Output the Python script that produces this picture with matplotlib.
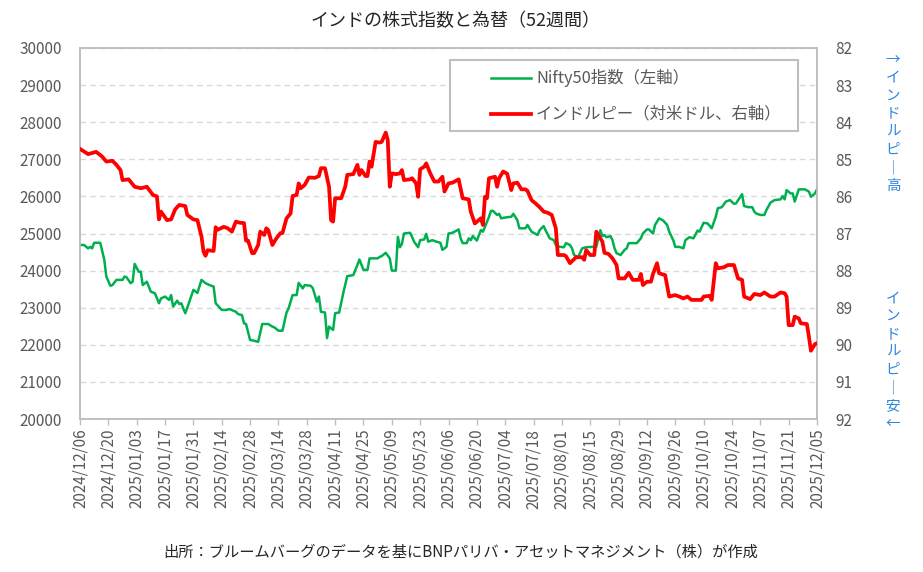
import matplotlib
matplotlib.use('Agg')
import matplotlib.pyplot as plt
from matplotlib.lines import Line2D
from matplotlib.patches import Rectangle
import pandas as pd

plt.rcParams['font.family'] = ['Noto Sans CJK JP', 'DejaVu Sans']

# ---------------- data ----------------
start_date = '2024-12-06'
end_date = '2025-12-05'

# Nifty50 index (left axis): days since start_date, index level
nifty_days = [
    0, 2, 4, 5, 6, 7, 10, 12, 13, 15,
    16, 18, 21, 22, 23, 25, 26, 27, 29, 30,
    31, 33, 35, 37, 39, 40, 42, 44, 45, 46,
    48, 49, 50, 52, 54, 56, 58, 60, 62, 64,
    66, 67, 70, 72, 74, 77, 78, 80, 81, 82,
    84, 86, 88, 90, 93, 95, 96, 98, 100, 102,
    103, 105, 107, 108, 110, 111, 114, 115, 117, 118,
    119, 121, 122, 123, 125, 126, 128, 130, 132, 135,
    137, 138, 140, 142, 143, 147, 148, 149, 151, 153,
    154, 156, 157, 158, 159, 160, 163, 164, 165, 167,
    168, 170, 171, 172, 174, 176, 178, 179, 181, 182,
    184, 187, 188, 189, 191, 192, 193, 194, 196, 198,
    199, 200, 202, 203, 204, 206, 207, 208, 211, 213,
    214, 216, 217, 220, 221, 223, 226, 227, 229, 230,
    232, 234, 235, 237, 239, 240, 242, 243, 244, 246,
    248, 250, 253, 255, 257, 258, 259, 260, 262, 263,
    264, 265, 267, 269, 270, 271, 272, 275, 277, 278,
    280, 281, 283, 284, 286, 288, 290, 291, 293, 294,
    296, 298, 299, 301, 303, 305, 306, 308, 310, 312,
    314, 315, 317, 319, 321, 323, 324, 327, 328, 330,
    332, 333, 334, 336, 338, 339, 341, 343, 346, 347,
    348, 349, 351, 352, 353, 355, 358, 360, 361, 363,
    364,
]
nifty_values = [
    24690, 24690, 24600, 24640, 24600, 24750, 24750, 24290, 23840, 23590,
    23610, 23750, 23750, 23840, 23820, 23660, 23700, 24180, 23970, 23970,
    23610, 23700, 23430, 23390, 23120, 23250, 23300, 23210, 23340, 23030,
    23190, 23100, 23120, 22850, 23160, 23480, 23400, 23750, 23660, 23610,
    23570, 23120, 22940, 22940, 22960, 22890, 22830, 22800, 22580, 22560,
    22130, 22110, 22080, 22560, 22560, 22490, 22470, 22380, 22380, 22870,
    22980, 23340, 23340, 23670, 23520, 23610, 23590, 23520, 23160, 23300,
    22890, 22870, 22180, 22490, 22400, 22850, 22870, 23390, 23850, 23880,
    24150, 24300, 24020, 24020, 24330, 24330, 24370, 24390, 24480, 24330,
    24000, 24000, 24910, 24630, 24720, 25000, 25020, 24910, 24780, 24630,
    24820, 24840, 24990, 24780, 24820, 24780, 24750, 24560, 24640, 25000,
    25020, 25110, 24870, 24740, 24740, 24870, 24820, 24930, 24810, 25090,
    25050, 25180, 25450, 25610, 25610, 25500, 25530, 25410, 25440, 25450,
    25530, 25360, 25140, 25140, 25230, 25050, 24960, 25090, 25200, 25080,
    24870, 24820, 24690, 24640, 24630, 24740, 24690, 24600, 24420, 24360,
    24600, 24630, 24640, 24640, 25090, 24930, 24960, 24900, 24930, 24820,
    24600, 24470, 24420, 24560, 24600, 24740, 24740, 24740, 24870, 25000,
    25110, 25110, 25000, 25230, 25410, 25350, 25230, 25050, 24820, 24640,
    24640, 24600, 24820, 24900, 24870, 25080, 25050, 25290, 25270, 25140,
    25450, 25680, 25710, 25860, 25900, 25800, 25810, 26060, 25740, 25710,
    25710, 25590, 25540, 25500, 25500, 25630, 25830, 25900, 25920, 26010,
    25920, 26170, 26080, 26080, 25860, 26190, 26190, 26130, 25990, 26080,
    26190,
]

# Indian rupee per USD (right axis, inverted): days since start_date, rate
inr_days = [
    0, 4, 8, 11, 13, 16, 18, 20, 21, 24,
    27, 30, 33, 36, 38, 39, 40, 43, 45, 47,
    49, 52, 53, 56, 58, 60, 61, 62, 63, 66,
    67, 68, 71, 73, 75, 77, 79, 81, 82, 83,
    85, 86, 88, 89, 91, 92, 93, 95, 97, 99,
    100, 102, 104, 105, 107, 108, 109, 111, 113, 116,
    118, 119, 121, 123, 124, 125, 126, 129, 131, 132,
    135, 137, 138, 139, 141, 142, 143, 144, 146, 148,
    149, 151, 152, 153, 154, 156, 158, 159, 160, 163,
    164, 166, 167, 168, 170, 171, 173, 175, 177, 179,
    180, 182, 184, 187, 189, 192, 193, 195, 198, 199,
    200, 201, 202, 205, 206, 207, 209, 211, 213, 214,
    216, 218, 220, 221, 223, 225, 227, 229, 231, 233,
    235, 236, 239, 240, 242, 245, 248, 249, 250, 252,
    254, 255, 258, 259, 261, 263, 265, 266, 269, 271,
    273, 276, 277, 278, 280, 282, 283, 285, 286, 287,
    289, 291, 294, 296, 298, 300, 302, 307, 308, 311,
    312, 314, 315, 318, 320, 323, 325, 327, 328, 331,
    333, 336, 338, 341, 343, 346, 348, 349, 350, 352,
    353, 355, 356, 359, 360, 361, 363, 364,
]
inr_values = [
    84.72, 84.86, 84.80, 84.93, 85.06, 85.04, 85.15, 85.29, 85.56, 85.54,
    85.74, 85.78, 85.74, 85.96, 86.00, 86.62, 86.41, 86.64, 86.62, 86.35,
    86.23, 86.26, 86.50, 86.62, 86.64, 87.08, 87.49, 87.60, 87.45, 87.47,
    86.83, 86.90, 86.82, 86.86, 86.95, 86.68, 86.71, 86.72, 87.19, 87.19,
    87.53, 87.53, 87.31, 86.95, 87.04, 86.86, 86.91, 87.31, 87.13, 86.99,
    86.99, 86.59, 86.46, 85.99, 85.96, 85.65, 85.78, 85.69, 85.49, 85.50,
    85.45, 85.24, 85.24, 85.74, 86.64, 86.68, 86.05, 86.05, 85.74, 85.42,
    85.40, 85.15, 85.42, 85.29, 85.45, 85.45, 85.06, 85.20, 84.53, 84.55,
    84.53, 84.28, 84.48, 85.74, 85.38, 85.40, 85.38, 85.29, 85.56, 85.54,
    85.51, 85.65, 86.01, 85.27, 85.20, 85.11, 85.38, 85.60, 85.60, 85.47,
    85.87, 85.65, 85.63, 85.54, 86.05, 86.08, 86.41, 86.73, 86.59, 86.77,
    86.01, 86.05, 85.51, 85.47, 85.74, 85.51, 85.33, 85.39, 85.83, 85.65,
    85.63, 85.81, 85.81, 85.85, 86.10, 86.19, 86.29, 86.41, 86.44, 86.50,
    86.86, 87.58, 87.58, 87.61, 87.80, 87.64, 87.64, 87.71, 87.45, 87.58,
    87.58, 86.95, 87.22, 87.52, 87.55, 87.67, 87.85, 88.21, 88.21, 88.06,
    88.25, 88.25, 88.09, 88.39, 88.30, 88.30, 88.09, 87.80, 88.07, 88.09,
    88.12, 88.70, 88.66, 88.70, 88.75, 88.70, 88.79, 88.79, 88.70, 88.68,
    88.79, 87.80, 87.94, 87.91, 87.85, 87.85, 88.21, 88.25, 88.70, 88.77,
    88.63, 88.66, 88.59, 88.70, 88.70, 88.59, 88.61, 88.70, 89.47, 89.47,
    89.24, 89.29, 89.42, 89.44, 89.78, 90.16, 89.98, 89.96,
]

left_ticks = [20000, 21000, 22000, 23000, 24000, 25000, 26000, 27000, 28000, 29000, 30000]
right_ticks = [82, 83, 84, 85, 86, 87, 88, 89, 90, 91, 92]
tick_step_days = 14

title_text = 'インドの株式指数と為替（52週間）'
nifty_label = 'Nifty50指数（左軸）'
inr_label = 'インドルピー（対米ドル、右軸）'
source_text = '出所：ブルームバーグのデータを基にBNPパリバ・アセットマネジメント（株）が作成'
strong_text = '→インドルピ｜高'
weak_text = 'インドルピ｜安←'

# ---------------- drawing ----------------
W, H = 923, 572
GREEN = '#00B050'
RED = '#FF0000'
GRAY_TXT = '#595959'
SPINE = '#BFBFBF'
GRID = '#D9D9D9'
BLUE = '#2E86DE'

start = pd.Timestamp(start_date)
end = pd.Timestamp(end_date)
nifty_dates = start + pd.to_timedelta(nifty_days, unit='D')
inr_dates = start + pd.to_timedelta(inr_days, unit='D')
tick_dates = pd.date_range(start, end, freq=f'{tick_step_days}D')

fig = plt.figure(figsize=(W / 100, H / 100), dpi=100)
L, R, T, B = 80, 817, 48, 419
ax = fig.add_axes([L / W, 1 - B / H, (R - L) / W, (B - T) / H])
ax2 = ax.twinx()

ax.plot(nifty_dates, nifty_values, color=GREEN, lw=1.8, zorder=3)
ax2.plot(inr_dates, inr_values, color=RED, lw=2.7, zorder=3)

ax.set_xlim(start, end)
ax.set_ylim(left_ticks[0], left_ticks[-1])
ax.set_yticks(left_ticks)
ax.set_yticklabels([str(v) for v in left_ticks])
ax2.set_ylim(right_ticks[-1], right_ticks[0])
ax2.set_yticks(right_ticks)
ax2.set_yticklabels([str(v) for v in right_ticks])

ax.set_xticks(tick_dates)
ax.set_xticklabels([d.strftime('%Y/%m/%d') for d in tick_dates], rotation=90)

ax.grid(axis='y', color=GRID, linestyle=(0, (4, 3)), lw=1.0)
ax.set_axisbelow(True)

for a in (ax, ax2):
    for s in a.spines.values():
        s.set_color(SPINE)
        s.set_linewidth(1.2)
ax.tick_params(axis='x', direction='out', length=4, width=1, color=SPINE,
               labelsize=11, labelcolor=GRAY_TXT, pad=3)
ax.tick_params(axis='y', length=0, labelsize=11, labelcolor=GRAY_TXT, pad=13)
ax2.tick_params(axis='y', length=0, labelsize=11, labelcolor=GRAY_TXT, pad=13)

# title and source
fig.text(455 / W, 1 - 21 / H, title_text, ha='center', va='center',
         fontsize=13, color='#262626')
fig.text(461 / W, 1 - 552 / H, source_text, ha='center', va='center',
         fontsize=11, color='#262626')

# legend (manual box)
lx0, ly0, lx1, ly1 = 450, 60, 798, 131
fig.add_artist(Rectangle((lx0 / W, 1 - ly1 / H), (lx1 - lx0) / W, (ly1 - ly0) / H,
                         transform=fig.transFigure, facecolor='white',
                         edgecolor=SPINE, lw=1.5, zorder=5))
for yy, col, lw, lab in [(77.7, GREEN, 1.8, nifty_label), (114, RED, 2.7, inr_label)]:
    fig.add_artist(Line2D([491 / W, 531 / W], [1 - yy / H] * 2,
                          transform=fig.transFigure, color=col, lw=lw, zorder=6))
    fig.text(536 / W, 1 - yy / H, lab, ha='left', va='center', fontsize=11.8,
             color=GRAY_TXT, zorder=6)

# right-side vertical annotations
fig.text(893 / W, 1 - 123 / H, '\n'.join(strong_text), ha='center', va='center',
         fontsize=10.5, color=BLUE, linespacing=1.35)
fig.text(893 / W, 1 - 361 / H, '\n'.join(weak_text), ha='center', va='center',
         fontsize=10.5, color=BLUE, linespacing=1.35)

fig.savefig('out.png', dpi=100)
